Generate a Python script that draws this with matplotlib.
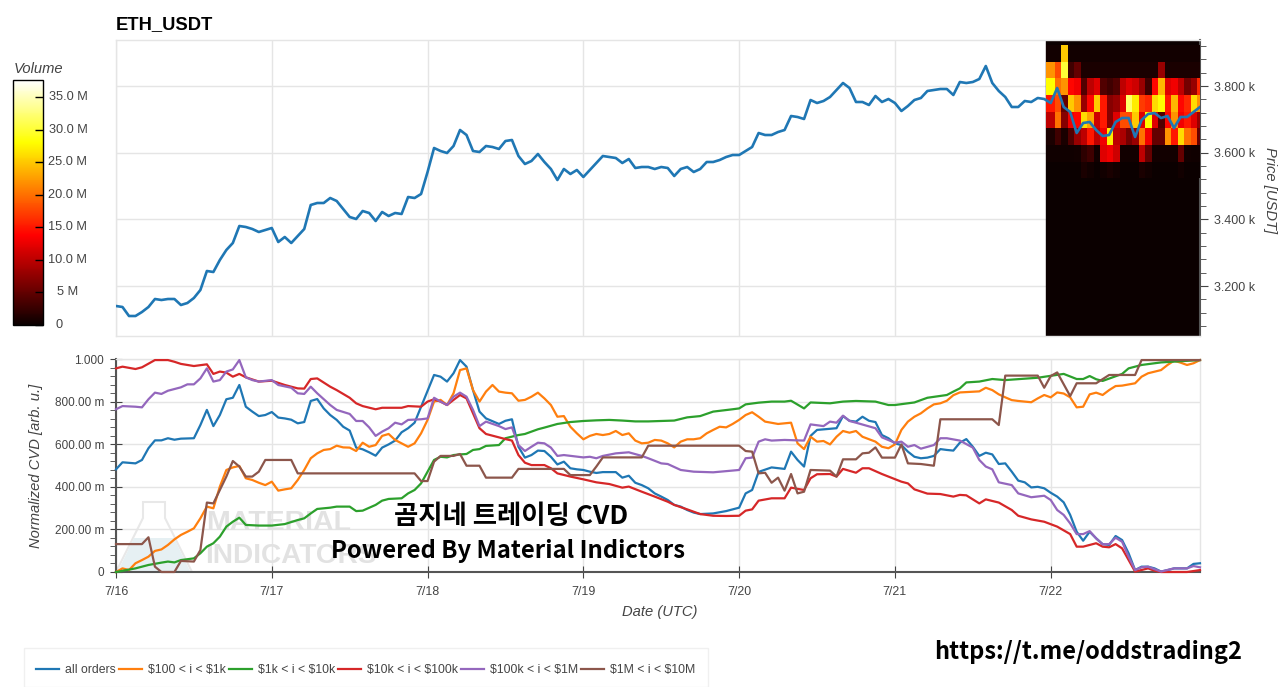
import numpy as np
import matplotlib
matplotlib.use("Agg")
import matplotlib.pyplot as plt
from matplotlib.patches import Polygon, Rectangle

plt.rcParams['font.family'] = ['Liberation Sans', 'DejaVu Sans']

W, H = 1280, 687
GREY = '#444444'
GRID = '#e5e5e5'

day_labels = ['7/16', '7/17', '7/18', '7/19', '7/20', '7/21', '7/22']
day_hours = [0, 24, 48, 72, 96, 120, 144]

## hourly close, one row per day
price = [
    3140, 3137, 3110, 3110, 3122, 3137, 3161, 3158, 3161, 3161, 3143, 3149, 3164, 3188, 3245, 3242, 3278, 3308, 3329, 3380, 3377, 3371, 3362, 3368,
    3374, 3332, 3347, 3329, 3350, 3371, 3443, 3449, 3449, 3464, 3455, 3431, 3407, 3401, 3425, 3419, 3395, 3422, 3410, 3419, 3416, 3467, 3464, 3476,
    3542, 3614, 3605, 3599, 3620, 3668, 3653, 3605, 3602, 3620, 3617, 3611, 3635, 3638, 3590, 3566, 3575, 3596, 3572, 3551, 3518, 3551, 3536, 3548,
    3527, 3548, 3569, 3590, 3587, 3584, 3569, 3581, 3554, 3557, 3557, 3551, 3557, 3554, 3530, 3551, 3557, 3542, 3551, 3572, 3572, 3578, 3587, 3593,
    3593, 3605, 3617, 3659, 3653, 3653, 3662, 3668, 3710, 3707, 3701, 3758, 3749, 3755, 3767, 3788, 3809, 3794, 3752, 3752, 3743, 3770, 3752, 3761,
    3749, 3725, 3740, 3758, 3764, 3785, 3788, 3791, 3791, 3773, 3812, 3809, 3812, 3821, 3860, 3809, 3785, 3767, 3737, 3737, 3755, 3752, 3764, 3761,
    3749, 3794, 3737, 3722, 3659, 3689, 3692, 3668, 3650, 3653, 3692, 3704, 3704, 3647, 3698, 3716, 3719, 3704, 3710, 3674, 3707, 3707, 3722, 3737,
]

## volume per 50 USD price bin (M), 7/22 only, top row first
volume_rows = [3873, 3823, 3773, 3723, 3673, 3623, 3573, 3523]
volume = [
    [0.5, 0.5, 25, 0.5, 0.5, 0.5, 0.5, 0.5, 0.5, 0.5, 0.5, 0.5, 0.5, 0.5, 0.5, 0.5, 0.5, 0.5, 0.5, 0.5, 0.5, 0.5, 0.5, 0.5],
    [22, 18, 30, 3, 5, 1, 1, 1, 1, 1, 1, 1, 1, 1, 1, 1, 1, 8, 1, 1, 1, 1, 1, 1],
    [28, 20, 22, 14, 13, 4, 10, 12, 4, 3, 4, 10, 12, 11, 8, 3, 14, 24, 12, 13, 10, 6, 8, 16],
    [15, 18, 5, 25, 22, 8, 14, 25, 15, 7, 8, 12, 32, 27, 17, 16, 26, 28, 15, 24, 14, 16, 26, 22],
    [10, 20, 7, 13, 14, 26, 23, 11, 15, 7, 12, 18, 18, 25, 12, 28, 12, 4, 14, 22, 13, 15, 12, 8],
    [1, 3, 1, 4, 8, 10, 15, 10, 13, 27, 10, 9, 6, 8, 20, 13, 5, 5, 22, 15, 26, 20, 18, 5],
    [0.3, 0.3, 0.3, 0.3, 0.5, 2, 3, 0.5, 12, 13, 11, 0.5, 0.5, 0.5, 10, 5, 0.5, 0.5, 0.5, 0.5, 5, 0.5, 0.3, 0.3],
    [0, 0, 0, 0, 0, 1, 0.5, 0, 0.5, 1, 0.5, 0, 0, 0, 1, 0.5, 0, 0, 0, 0, 0.5, 0, 0, 0],
]

all_h = [0, 1, 3, 4, 5, 6, 7, 8, 9, 10, 12, 13, 14, 15, 16, 17, 18, 19, 20, 21, 22, 23, 24, 25, 26, 27, 28, 29, 30, 31, 32, 33, 34, 35, 36, 37, 38, 39, 40, 41, 42, 43, 44, 45, 46, 47, 49, 50, 51, 52, 53, 54, 55, 56, 57, 59, 60, 61, 62, 63, 64, 65, 66, 67, 68, 69, 70, 71, 72, 73, 74, 75, 77, 78, 79, 80, 81, 82, 83, 84, 85, 86, 87, 88, 89, 90, 92, 94, 96, 97, 98, 99, 101, 103, 104, 105, 106, 107, 108, 111, 112, 113, 114, 115, 116, 117, 118, 119, 120, 121, 122, 123, 124, 125, 126, 127, 128, 129, 130, 131, 132, 133, 134, 135, 136, 137, 138, 139, 140, 141, 142, 143, 144, 145, 146, 147, 148, 149, 150, 151, 152, 153, 154, 155, 156, 157, 158, 159, 160, 161, 162, 163, 165, 166, 167]
all_v = [482, 515, 510, 526, 581, 618, 618, 628, 621, 626, 628, 690, 761, 685, 737, 811, 818, 878, 776, 753, 732, 737, 751, 725, 721, 715, 698, 704, 803, 812, 768, 737, 714, 682, 664, 584, 576, 562, 546, 584, 599, 617, 656, 675, 701, 776, 925, 917, 894, 933, 995, 964, 854, 753, 721, 695, 710, 717, 588, 537, 549, 570, 568, 541, 505, 518, 487, 482, 479, 471, 465, 469, 469, 443, 452, 419, 408, 393, 369, 354, 338, 315, 307, 291, 279, 272, 275, 286, 302, 369, 385, 470, 491, 484, 565, 526, 495, 639, 667, 675, 732, 710, 706, 729, 710, 704, 643, 628, 604, 596, 565, 541, 534, 537, 545, 577, 573, 570, 607, 624, 588, 545, 560, 552, 507, 510, 471, 429, 421, 397, 400, 393, 372, 354, 327, 268, 189, 147, 189, 158, 131, 127, 169, 150, 88, 9, 25, 25, 17, 2, 9, 17, 17, 38, 41]

o_h = [0, 1, 2, 3, 4, 5, 6, 7, 8, 9, 10, 11, 12, 13, 14, 15, 16, 17, 18, 19, 20, 21, 22, 23, 24, 25, 26, 27, 28, 29, 30, 31, 32, 33, 34, 35, 36, 37, 38, 39, 40, 41, 42, 43, 45, 46, 47, 48, 49, 50, 51, 52, 53, 54, 55, 56, 57, 58, 59, 60, 61, 62, 63, 64, 65, 66, 67, 68, 69, 70, 71, 72, 73, 74, 75, 76, 77, 78, 79, 80, 81, 82, 83, 84, 85, 86, 87, 88, 89, 90, 91, 92, 93, 94, 95, 96, 97, 98, 99, 100, 102, 104, 105, 106, 107, 108, 109, 110, 111, 112, 113, 114, 115, 117, 118, 119, 120, 121, 122, 123, 124, 125, 126, 127, 128, 129, 130, 132, 133, 134, 135, 136, 137, 138, 139, 140, 141, 142, 143, 144, 145, 146, 147, 148, 149, 150, 151, 152, 153, 154, 155, 157, 158, 159, 161, 162, 163, 164, 165, 166, 167]
o_v = [0, 17, 9, 41, 56, 72, 99, 106, 127, 153, 174, 189, 205, 252, 307, 299, 401, 479, 491, 498, 440, 432, 419, 408, 424, 382, 388, 393, 432, 479, 534, 557, 573, 577, 593, 585, 584, 568, 607, 588, 596, 639, 648, 620, 588, 604, 651, 714, 800, 808, 784, 839, 948, 956, 854, 800, 847, 878, 847, 842, 839, 804, 808, 823, 842, 815, 784, 729, 732, 682, 651, 623, 639, 648, 643, 648, 662, 643, 651, 617, 604, 607, 620, 617, 604, 585, 612, 623, 623, 628, 651, 667, 682, 679, 695, 714, 737, 750, 729, 706, 695, 701, 604, 577, 635, 612, 615, 599, 635, 662, 654, 662, 635, 612, 588, 581, 599, 667, 706, 729, 745, 768, 787, 792, 804, 830, 843, 846, 848, 865, 854, 834, 820, 807, 803, 800, 797, 815, 831, 820, 843, 838, 820, 773, 776, 834, 842, 831, 854, 873, 875, 886, 917, 933, 948, 972, 992, 983, 972, 980, 995]

g_h = [0, 3, 5, 7, 8, 9, 10, 12, 13, 14, 15, 16, 17, 18, 19, 20, 22, 24, 26, 28, 29, 30, 31, 33, 34, 36, 37, 38, 40, 41, 42, 44, 45, 46, 47, 49, 50, 51, 52, 53, 54, 55, 56, 57, 59, 60, 62, 63, 65, 66, 68, 70, 72, 74, 76, 78, 80, 82, 86, 88, 90, 92, 95, 96, 97, 99, 101, 103, 104, 106, 107, 110, 112, 114, 117, 119, 120, 123, 125, 128, 129, 130, 131, 133, 135, 137, 142, 146, 148, 149, 150, 151, 152, 155, 156, 158, 161, 167]
g_v = [0, 17, 33, 44, 49, 45, 56, 64, 88, 119, 135, 166, 213, 236, 255, 221, 218, 218, 225, 244, 252, 275, 296, 302, 307, 307, 286, 288, 315, 335, 343, 346, 369, 385, 416, 526, 541, 538, 549, 552, 554, 573, 577, 592, 596, 628, 643, 648, 670, 678, 695, 704, 709, 712, 714, 711, 707, 707, 711, 726, 732, 753, 764, 768, 787, 795, 800, 800, 804, 768, 796, 792, 800, 803, 800, 784, 784, 796, 818, 831, 847, 862, 890, 894, 906, 901, 912, 930, 906, 906, 920, 905, 897, 930, 956, 972, 984, 995]

r_h = [0, 1, 3, 4, 6, 8, 9, 10, 12, 14, 15, 16, 17, 18, 19, 20, 22, 24, 26, 28, 29, 30, 31, 33, 34, 36, 37, 38, 40, 41, 44, 45, 47, 48, 49, 50, 51, 52, 53, 54, 55, 56, 57, 59, 60, 61, 62, 63, 64, 66, 67, 68, 70, 72, 74, 76, 78, 79, 81, 83, 85, 86, 88, 90, 92, 94, 96, 97, 98, 99, 101, 103, 104, 106, 107, 108, 110, 111, 112, 114, 115, 116, 118, 119, 121, 122, 123, 125, 127, 129, 130, 131, 132, 133, 134, 136, 138, 139, 141, 143, 145, 147, 148, 149, 151, 152, 153, 154, 155, 157, 159, 160, 161, 165, 167]
r_v = [956, 964, 953, 961, 995, 995, 987, 977, 967, 975, 930, 941, 936, 917, 930, 914, 894, 898, 878, 862, 861, 906, 909, 870, 854, 818, 792, 779, 764, 771, 771, 779, 776, 800, 811, 800, 784, 808, 831, 815, 745, 675, 648, 632, 624, 617, 549, 513, 502, 502, 487, 463, 448, 435, 421, 413, 396, 401, 377, 354, 330, 315, 294, 272, 264, 263, 264, 288, 294, 335, 346, 346, 396, 385, 440, 459, 460, 448, 484, 466, 487, 487, 460, 448, 424, 416, 388, 368, 366, 354, 362, 360, 341, 322, 341, 326, 291, 264, 247, 236, 213, 178, 119, 119, 135, 119, 116, 131, 111, 2, 17, 6, 0, 0, 9]

p_h = [0, 1, 3, 4, 5, 6, 7, 8, 10, 11, 12, 13, 14, 15, 16, 17, 18, 19, 20, 21, 22, 24, 25, 27, 28, 29, 30, 31, 33, 34, 36, 37, 38, 39, 40, 41, 42, 43, 44, 45, 47, 48, 49, 50, 51, 52, 53, 54, 55, 56, 57, 59, 60, 61, 62, 63, 64, 65, 66, 67, 68, 69, 72, 73, 74, 75, 77, 79, 81, 82, 84, 85, 87, 89, 92, 96, 97, 98, 99, 100, 101, 103, 106, 107, 109, 110, 111, 112, 113, 114, 117, 118, 120, 121, 122, 123, 124, 126, 127, 128, 130, 132, 133, 134, 135, 136, 138, 139, 141, 143, 144, 145, 146, 147, 148, 149, 150, 151, 152, 153, 154, 155, 156, 157, 158, 159, 160, 161, 163, 165, 166, 167]
p_v = [764, 779, 776, 773, 811, 842, 836, 851, 867, 881, 881, 909, 956, 894, 901, 941, 951, 995, 914, 901, 894, 901, 878, 865, 839, 836, 870, 839, 784, 761, 742, 709, 709, 679, 639, 659, 675, 701, 693, 714, 717, 721, 818, 800, 784, 823, 842, 823, 761, 685, 706, 685, 671, 679, 596, 568, 588, 607, 604, 584, 545, 549, 538, 541, 534, 545, 557, 562, 545, 534, 510, 507, 479, 471, 468, 479, 534, 537, 612, 623, 617, 620, 617, 693, 685, 706, 701, 734, 709, 701, 675, 632, 607, 612, 588, 596, 579, 596, 628, 628, 617, 584, 526, 495, 482, 421, 408, 369, 351, 358, 338, 291, 268, 228, 178, 178, 192, 158, 130, 131, 161, 142, 72, 9, 22, 25, 13, 2, 17, 17, 28, 22]

b_h = [0, 4, 5, 6, 7, 9, 10, 12, 13, 14, 15, 16, 17, 18, 19, 20, 21, 22, 23, 27, 28, 46, 47, 48, 49, 50, 52, 53, 54, 56, 57, 61, 62, 69, 70, 73, 74, 75, 81, 82, 96, 97, 98, 99, 100, 101, 102, 103, 104, 105, 106, 107, 110, 111, 112, 114, 115, 116, 117, 118, 120, 121, 122, 124, 126, 127, 135, 136, 137, 142, 143, 144, 145, 147, 148, 151, 153, 157, 158, 167]
b_v = [131, 131, 163, 25, 0, 0, 52, 49, 103, 326, 322, 385, 448, 521, 495, 448, 448, 471, 526, 526, 463, 463, 427, 427, 518, 545, 545, 554, 499, 499, 443, 443, 484, 484, 455, 455, 495, 538, 538, 593, 593, 568, 565, 463, 466, 419, 443, 382, 460, 369, 377, 479, 476, 448, 529, 529, 557, 560, 585, 537, 537, 599, 510, 507, 499, 717, 717, 690, 922, 922, 865, 920, 937, 826, 886, 886, 925, 925, 995, 995]

series_names = ['all orders', '$100 < i < $1k', '$1k < i < $10k', '$10k < i < $100k', '$100k < i < $1M', '$1M < i < $10M']
series_hours = [all_h, o_h, g_h, r_h, p_h, b_h]
series_vals = [all_v, o_v, g_v, r_v, p_v, b_v]
series_colors = ['#1f77b4', '#ff7f0e', '#2ca02c', '#d62728', '#9467bd', '#8c564b']

price_ticks = [3200, 3400, 3600, 3800]
price_tick_labels = ['3.200 k', '3.400 k', '3.600 k', '3.800 k']
cvd_ticks = [0, 200, 400, 600, 800, 1000]
cvd_tick_labels = ['0', '200.00 m', '400.00 m', '600.00 m', '800.00 m', '1.000']
vol_ticks = [0, 5, 10, 15, 20, 25, 30, 35]
vol_tick_labels = ['0', '5 M', '10.0 M', '15.0 M', '20.0 M', '25.0 M', '30.0 M', '35.0 M']


def fx(px):
    return px / W


def fy(py):
    return 1 - py / H


def px_axes(x0, y0, x1, y1):
    return fig.add_axes([fx(x0), fy(y1), (x1 - x0) / W, (y1 - y0) / H])


def style_axis(ax, dark):
    for side, sp in ax.spines.items():
        if side in dark:
            sp.set_color('#555555')
            sp.set_linewidth(1.5)
        else:
            sp.set_color(GRID)
            sp.set_linewidth(1)
    ax.grid(True, color=GRID, linewidth=1)
    ax.set_axisbelow(True)


fig = plt.figure(figsize=(W / 100, H / 100), dpi=100)

## price panel
ax = px_axes(116, 40, 1200, 336)
ax.set_xlim(0, 167)
ax.set_ylim(3050, 3938)
style_axis(ax, ['right'])
ax.set_xticks(day_hours)
ax.tick_params(axis='x', length=0, labelbottom=False)
ax.yaxis.tick_right()
ax.set_yticks(price_ticks)
ax.set_yticklabels(price_tick_labels, fontsize=9, color=GREY)
ax.set_yticks(np.arange(3080, 3930, 40), minor=True)
ax.tick_params(axis='y', which='major', length=6, color=GREY, pad=4)
ax.tick_params(axis='y', which='minor', length=4, color=GREY)

hot = plt.get_cmap('hot')
ax.axvspan(143.3, 167, color=hot(0), zorder=2)
col_edges = np.r_[143.3, np.arange(144.6, 168, 1.0)]
row_edges = np.r_[3923, volume_rows]
mesh = ax.pcolormesh(col_edges, row_edges, np.array(volume), cmap=hot, vmin=0, vmax=37.6, zorder=3)
ax.plot(np.arange(len(price)), price, color=series_colors[0], lw=1.9, zorder=4)

fig.text(fx(116), fy(29), 'ETH_USDT', fontsize=13.2, fontweight='bold', color='black')
fig.text(fx(1270), fy(190), 'Price [USDT]', rotation=270, ha='center', va='center', fontsize=10.6, style='italic', color=GREY)

## cvd panel
ax2 = px_axes(116, 359, 1200, 572)
ax2.patch.set_alpha(0)
ax2.set_xlim(0, 167)
ax2.set_ylim(0, 1000)
style_axis(ax2, ['left', 'bottom'])
ax2.set_xticks(day_hours)
ax2.set_xticklabels(day_labels, fontsize=8.9, color=GREY)
ax2.set_yticks(cvd_ticks)
ax2.set_yticklabels(cvd_tick_labels, fontsize=8.5, color=GREY)
ax2.set_yticks(np.arange(0, 1000, 40), minor=True)
ax2.tick_params(axis='both', which='major', direction='inout', length=9, color=GREY, pad=4)
ax2.tick_params(axis='x', which='major', pad=5.5)
ax2.tick_params(axis='y', which='minor', length=4, color=GREY)

handles = []
for hrs, vals, name, col in zip(series_hours, series_vals, series_names, series_colors):
    ln, = ax2.plot(hrs, vals, color=col, lw=1.6, label=name, zorder=4, clip_on=False)
    handles.append(ln)

fig.text(fx(36), fy(466), 'Normalized CVD [arb. u.]', rotation=90, ha='center', va='center', fontsize=10.6, style='italic', color=GREY)
fig.text(fx(660), fy(612), 'Date (UTC)', ha='center', va='center', fontsize=10.6, style='italic', color=GREY)

## faded watermark behind the lines
flask = [(143, 502), (165, 502), (165, 518), (192, 572), (116, 572), (143, 518)]
ax2.add_patch(Polygon([(fx(a), fy(b)) for a, b in flask], closed=True, fill=False, ec='#e8e8e8', lw=1.5,
                      transform=fig.transFigure, clip_on=False, zorder=0.5))
flask_fill = [(134, 538), (174, 538), (190, 571), (118, 571)]
ax2.add_patch(Polygon([(fx(a), fy(b)) for a, b in flask_fill], closed=True, fc='#e6f0f3', ec='none',
                      transform=fig.transFigure, clip_on=False, zorder=0.5))
ax2.text(fx(206), fy(523), 'MATERIAL', transform=fig.transFigure, fontsize=20.5, fontweight='bold', color='#e2e2e2', va='center', zorder=0.6)
ax2.text(fx(205), fy(556), 'INDICATORS', transform=fig.transFigure, fontsize=20.2, fontweight='bold', color='#e2e2e2', va='center', zorder=0.6)

## overlay captions
cap_font = ['Noto Sans CJK KR', 'DejaVu Sans']
fig.text(fx(511), fy(516), '곰지네 트레이딩 CVD', family=cap_font, fontsize=19, fontweight='bold', ha='center', va='center', color='black', zorder=10)
fig.text(fx(508), fy(551), 'Powered By Material Indictors', family=cap_font, fontsize=17.15, fontweight='bold', ha='center', va='center', color='black', zorder=10)
fig.text(fx(1088), fy(652), 'https://t.me/oddstrading2', family=cap_font, fontsize=17, fontweight='bold', ha='center', va='center', color='black', zorder=10)

## colour bar
cax = px_axes(13, 80, 43, 325)
cb = fig.colorbar(mesh, cax=cax)
cb.outline.set_edgecolor('black')
cb.outline.set_linewidth(1)
cb.set_ticks(vol_ticks)
cb.set_ticklabels([])
cax.tick_params(axis='y', direction='in', length=6, color='black', width=1)
for v, lab in zip(vol_ticks, vol_tick_labels):
    cax.text(1.53 if v == 0 else 1.83, v, lab, transform=cax.get_yaxis_transform(), ha='center', va='center', fontsize=9.2, color=GREY)
fig.text(fx(14), fy(69), 'Volume', fontsize=10.6, style='italic', color=GREY, va='center')

## legend along the bottom, box runs off the figure edge
fig.add_artist(Rectangle((fx(24), 0), (708 - 24) / W, fy(648), transform=fig.transFigure, fc='white', ec='#f0f0f0', lw=1))
leg = fig.legend(handles=handles, loc='center left', bbox_to_anchor=(fx(36), fy(670)), ncol=6, fontsize=8.8,
                 handlelength=1.88, handletextpad=0.49, columnspacing=0.25, borderpad=0, borderaxespad=0,
                 frameon=False, labelcolor=GREY)
for t in leg.get_texts():
    t.set_parse_math(False)

fig.savefig('out.png', dpi=100)
